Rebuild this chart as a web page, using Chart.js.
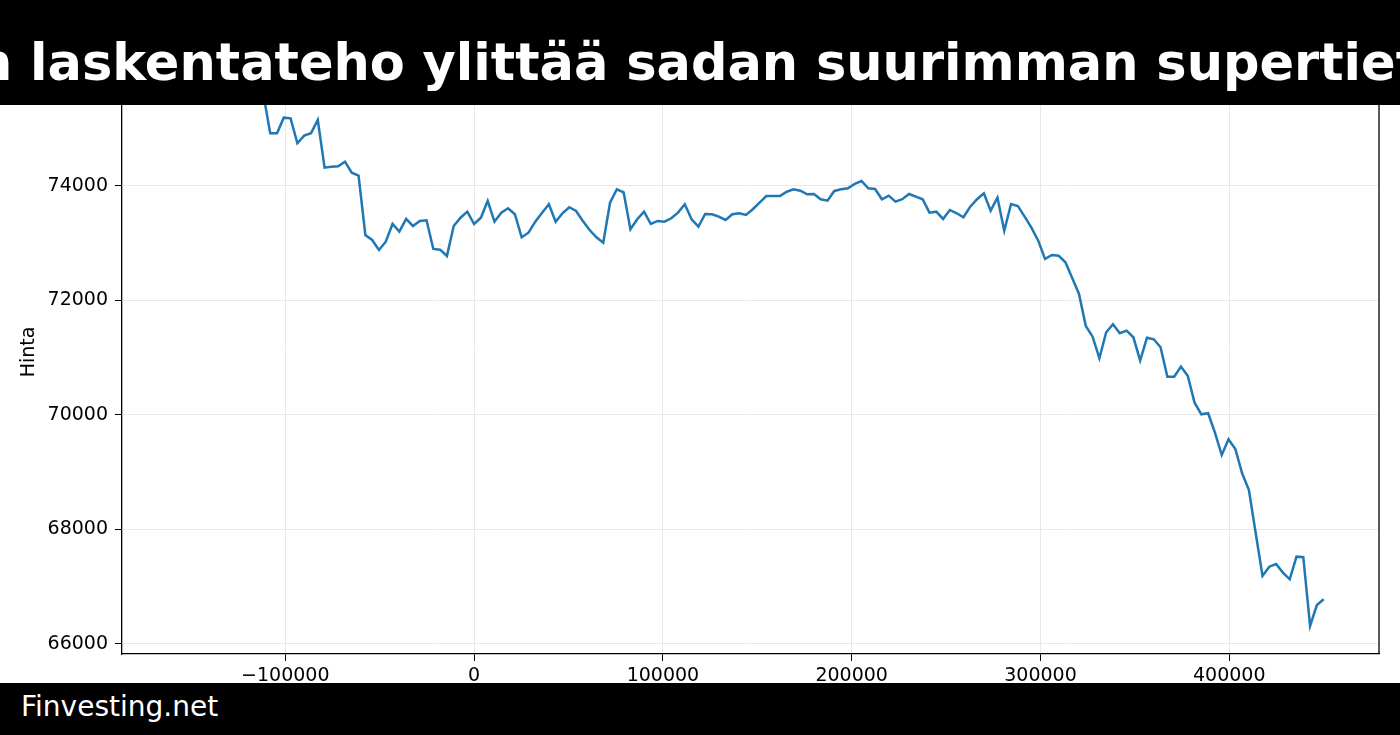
<!DOCTYPE html>
<html>
<head>
<meta charset="utf-8">
<script src="https://cdn.jsdelivr.net/npm/chart.js@4"></script>
<style>
    html, body { margin: 0; padding: 0; background: #fff; }
    #wrap { position: relative; width: 1400px; height: 735px; overflow: hidden; }
    #chart { position: absolute; left: 0; top: 0; }
    #title { position: absolute; left: 0; top: 0; width: 1400px; height: 105px; background: #000; overflow: hidden; }
    #title span { position: absolute; left: -24px; top: 37px; color: #fff; font: bold 51px/1 "DejaVu Sans"; white-space: nowrap; }
    #footer { position: absolute; left: 0; top: 683px; width: 1400px; height: 52px; background: #000; }
    #footer span { position: absolute; left: 21px; top: 10px; color: #fff; font: 28px/1 "DejaVu Sans"; white-space: nowrap; }
</style>
</head>
<body>
<div id="wrap">
    <canvas id="chart" width="1400" height="735"></canvas>
    <div id="title"><span>n laskentateho ylittää sadan suurimman supertiet</span></div>
    <div id="footer"><span>Finvesting.net</span></div>
</div>
<script>
// aika-akseli: tunnin välein (sekunteina), ensimmäinen piste jää otsikon alle
const xStart = -111600;
const xStep = 3600;

// hinta
const prices = [
    75600,
    74920, 74920, 75193, 75182, 74746, 74879, 74920, 75153, 74320, 74337,
    74344, 74424, 74232, 74180, 73144, 73057, 72882, 73027, 73336, 73202,
    73424, 73301, 73389, 73401, 72900, 72887, 72777, 73301, 73446, 73551,
    73336, 73446, 73738, 73376, 73534, 73610, 73506, 73104, 73184, 73376,
    73534, 73680, 73376, 73523, 73628, 73563, 73389, 73231, 73104, 73010,
    73708, 73942, 73890, 73244, 73418, 73551, 73336, 73389, 73376, 73436,
    73534, 73680, 73418, 73289, 73511, 73506, 73464, 73406, 73506, 73523,
    73493, 73593, 73708, 73825, 73825, 73825, 73900, 73942, 73918, 73855,
    73860, 73768, 73743, 73913, 73942, 73960, 74035, 74087, 73960, 73948,
    73768, 73831, 73726, 73768, 73860, 73813, 73768, 73534, 73551, 73424,
    73581, 73523, 73453, 73638, 73768, 73872, 73569, 73796, 73219, 73686,
    73651, 73464, 73272, 73045, 72725, 72795, 72783, 72667, 72393, 72114,
    71555, 71368, 70990, 71445, 71584, 71427, 71473, 71357, 70949, 71350,
    71322, 71183, 70669, 70669, 70844, 70686, 70215, 70012, 70030, 69691,
    69301, 69576, 69406, 68982, 68690, 67934, 67188, 67350, 67397, 67246,
    67130, 67525, 67515, 66315, 66681, 66781
];

const xTicks = [-100000, 0, 100000, 200000, 300000, 400000];
const yTicks = [66000, 68000, 70000, 72000, 74000, 76000];

const points = prices.map((p, i) => ({ x: xStart + i * xStep, y: p }));

// oikea reunaviiva kuten matplotlibissa
const frame = {
    id: 'frame',
    afterDraw(chart) {
        const { ctx, chartArea: a } = chart;
        ctx.save();
        ctx.strokeStyle = '#000';
        ctx.lineWidth = 1.3;
        ctx.beginPath();
        ctx.moveTo(a.right, a.top);
        ctx.lineTo(a.right, a.bottom);
        ctx.stroke();
        ctx.restore();
    }
};

const font = { family: '"DejaVu Sans", sans-serif', size: 19 };

new Chart(document.getElementById('chart'), {
    type: 'line',
    data: {
        datasets: [{
            data: points,
            borderColor: '#1f77b4',
            borderWidth: 2.5,
            pointRadius: 0,
            tension: 0,
            fill: false
        }]
    },
    options: {
        responsive: false,
        animation: false,
        devicePixelRatio: 1,
        layout: { padding: { top: 50, right: 21, left: 0, bottom: 0 } },
        plugins: { legend: { display: false }, tooltip: { enabled: false } },
        scales: {
            x: {
                type: 'linear',
                min: -186500,
                max: 479300,
                afterBuildTicks: s => { s.ticks = xTicks.map(v => ({ value: v })); },
                afterFit: s => { s.height = 81; },
                grid: { color: '#e8e8e8', lineWidth: 1, tickColor: '#000', tickLength: 7 },
                border: { color: '#000', width: 1.3 },
                ticks: {
                    color: '#000', font, padding: 4, maxRotation: 0,
                    callback: v => (v < 0 ? '\u2212' + Math.abs(v) : String(v))
                }
            },
            y: {
                min: 65825,
                max: 76375,
                afterBuildTicks: s => { s.ticks = yTicks.map(v => ({ value: v })); },
                afterFit: s => { s.width = 122; },
                grid: { color: '#e8e8e8', lineWidth: 1, tickColor: '#000', tickLength: 7 },
                border: { color: '#000', width: 1.3 },
                ticks: { color: '#000', font, padding: 7, callback: v => String(v) },
                title: { display: true, text: 'Hinta', color: '#000', font, padding: { top: 18, bottom: 0 } }
            }
        }
    },
    plugins: [frame]
});
</script>
</body>
</html>
